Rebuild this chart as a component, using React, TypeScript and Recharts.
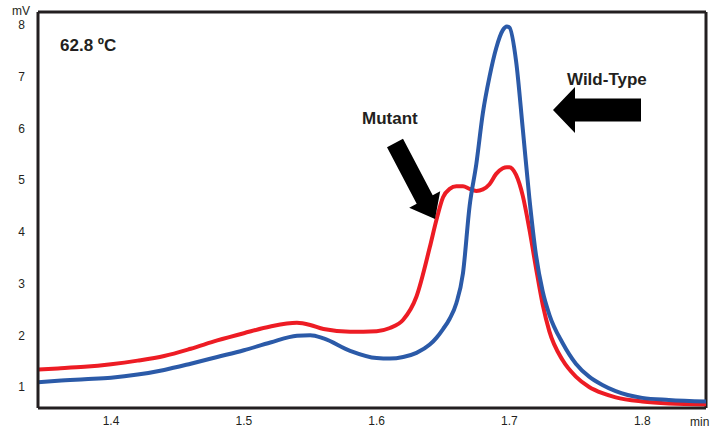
import { LineChart, Line, XAxis, YAxis, ReferenceLine } from 'recharts';

// retention time (min)
const times = [
  1.345, 1.36, 1.38, 1.4, 1.42, 1.44, 1.46, 1.48, 1.5, 1.52, 1.54, 1.55, 1.56, 1.58,
  1.6, 1.61, 1.62, 1.63, 1.64, 1.645, 1.65, 1.655, 1.66, 1.665, 1.67, 1.675, 1.68,
  1.685, 1.69, 1.695, 1.698, 1.7, 1.705, 1.71, 1.715, 1.72, 1.725, 1.73, 1.74, 1.75,
  1.76, 1.77, 1.78, 1.8, 1.82, 1.848,
];

// signal (mV)
const wildType = [
  1.09, 1.12, 1.15, 1.18, 1.24, 1.33, 1.45, 1.58, 1.71, 1.86, 1.99, 2.0, 1.94, 1.7,
  1.56, 1.55, 1.58, 1.66, 1.82, 1.95, 2.12, 2.32, 2.62, 3.2, 4.5, 5.3, 6.3,
  7.0, 7.55, 7.9, 7.97, 7.95, 7.3, 6.0, 4.65, 3.55, 2.85, 2.4, 1.85, 1.45,
  1.2, 1.04, 0.92, 0.79, 0.75, 0.72,
];

const mutant = [
  1.34, 1.36, 1.39, 1.44, 1.51, 1.6, 1.74, 1.9, 2.04, 2.17, 2.24, 2.2, 2.12, 2.07,
  2.08, 2.14, 2.3, 2.75, 3.7, 4.23, 4.67, 4.83, 4.88, 4.88, 4.83, 4.79, 4.82,
  4.92, 5.12, 5.23, 5.25, 5.25, 5.1, 4.7, 4.05, 3.3, 2.6, 2.08, 1.52, 1.2,
  1.0, 0.88, 0.8, 0.72, 0.68, 0.66,
];

const xTicks = [1.4, 1.5, 1.6, 1.7, 1.8];
const yTicks = [1, 2, 3, 4, 5, 6, 7, 8];

const X_MIN = 1.345;
const X_MAX = 1.848;
const Y_MIN = 0.594;
const Y_MAX = 8.25;

const data = times.map((t, i) => ({ t, wt: wildType[i], mut: mutant[i] }));

const ink = '#231f20';
const font = 'Liberation Sans, Arial, Helvetica, sans-serif';

export default function App() {
  return (
    <div style={{ position: 'absolute', left: 0, top: 0, width: 716, height: 430, background: '#fff' }}>
      <LineChart width={716} height={430} data={data} margin={{ top: 12, right: 10, left: 0, bottom: 0 }}>
        <XAxis
          dataKey="t"
          type="number"
          domain={[X_MIN, X_MAX]}
          ticks={xTicks}
          tickFormatter={(v: number) => v.toFixed(1)}
          allowDataOverflow
          height={22}
          tickLine={false}
          tickSize={0}
          tickMargin={8}
          axisLine={{ stroke: ink, strokeWidth: 3 }}
          tick={{ fill: ink, fontSize: 12, fontFamily: font }}
        />
        <YAxis
          type="number"
          domain={[Y_MIN, Y_MAX]}
          ticks={yTicks}
          allowDataOverflow
          width={38}
          tickLine={false}
          tickSize={0}
          tickMargin={13}
          axisLine={{ stroke: ink, strokeWidth: 3 }}
          tick={{ fill: ink, fontSize: 12, fontFamily: font }}
        />
        <ReferenceLine y={Y_MAX} stroke={ink} strokeWidth={3} />
        <ReferenceLine x={X_MAX} stroke={ink} strokeWidth={3} />
        <Line type="monotone" dataKey="mut" stroke="#ed1c24" strokeWidth={4} dot={false} isAnimationActive={false} />
        <Line type="monotone" dataKey="wt" stroke="#2b5aa8" strokeWidth={4} dot={false} isAnimationActive={false} />
      </LineChart>
      <svg width={716} height={430} style={{ position: 'absolute', left: 0, top: 0, pointerEvents: 'none' }}>
        <text x={12} y={15} fontSize={12} fontFamily={font} fill={ink}>mV</text>
        <text x={690} y={426} fontSize={12} fontFamily={font} fill={ink}>min</text>
        <text x={60} y={51} fontSize={17} fontWeight="bold" fontFamily={font} fill={ink}>62.8 ºC</text>
        <text x={362} y={124} fontSize={17} fontWeight="bold" fontFamily={font} fill={ink}>Mutant</text>
        <text x={567} y={85} fontSize={17} fontWeight="bold" fontFamily={font} fill={ink}>Wild-Type</text>
        <polygon
          points="403,138.8 432.7,195.3 440.2,191.3 435,219 409.2,207.7 416.7,203.7 387,147.2"
          fill="#000"
        />
        <polygon points="641,98.5 575,98.5 575,87 553,110 575,133 575,121.5 641,121.5" fill="#000" />
      </svg>
    </div>
  );
}
